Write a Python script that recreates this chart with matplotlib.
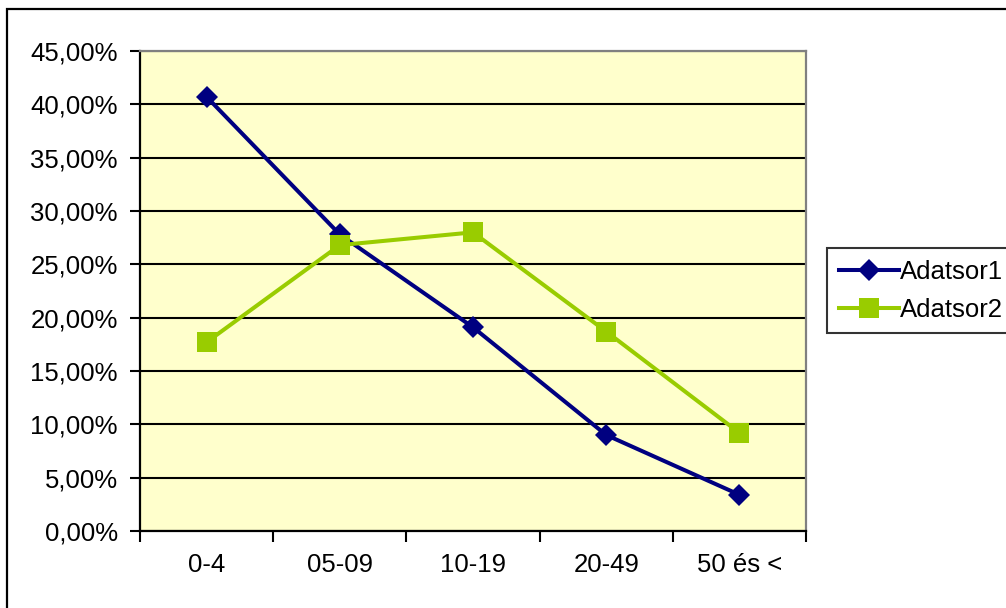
import numpy as np
import matplotlib
matplotlib.use("Agg")
import matplotlib.pyplot as plt
from matplotlib.patches import Rectangle
from matplotlib.ticker import FuncFormatter, FixedLocator

plt.rcParams['font.family'] = ['Liberation Sans', 'DejaVu Sans']

categories = ["0-4", "05-09", "10-19", "20-49", "50 és <"]
adatsor1 = [40.7, 27.8, 19.1, 9.0, 3.4]
adatsor2 = [17.7, 26.8, 28.0, 18.7, 9.2]

W, H = 1006, 608
fig = plt.figure(figsize=(W / 100, H / 100), dpi=100)

# outer chart border
fig.patches.append(Rectangle((7 / W, -0.05), 1.1, 1 - 9 / H + 0.05, transform=fig.transFigure,
                             fill=False, edgecolor="black", linewidth=1.6))

ax = fig.add_axes([140 / W, 1 - 531 / H, 666 / W, 480 / H])
ax.set_facecolor("#FFFFCC")

x = np.arange(len(categories))
ax.plot(x, adatsor1, color="#000080", lw=2.9, marker="D", ms=11, mew=0,
        label="Adatsor1", zorder=3)
ax.plot(x, adatsor2, color="#99CC00", lw=2.9, marker="s", ms=14.5, mew=0,
        label="Adatsor2", zorder=3)

ax.set_xlim(-0.5, len(categories) - 0.5)
ax.set_ylim(0, 45)
ax.set_yticks(np.arange(0, 46, 5))
ax.yaxis.set_major_formatter(FuncFormatter(lambda v, p: f"{v:.2f}%".replace(".", ",")))
ax.grid(axis="y", color="black", lw=1.5)
ax.set_axisbelow(True)

ax.set_xticks(x)
ax.set_xticklabels(categories)
ax.xaxis.set_minor_locator(FixedLocator(np.arange(-0.5, len(categories), 1)))
ax.tick_params(axis="x", which="major", length=0, pad=16, labelsize=18.5)
ax.tick_params(axis="x", which="minor", length=8, width=1.5, direction="out")
ax.tick_params(axis="y", length=7, width=1.5, pad=9, labelsize=18.5)

for s in ["left", "bottom"]:
    ax.spines[s].set_color("black")
    ax.spines[s].set_linewidth(1.6)
for s in ["top", "right"]:
    ax.spines[s].set_color("#808080")
    ax.spines[s].set_linewidth(1.6)

leg = fig.legend(loc="upper left", bbox_to_anchor=(827 / W, 1 - 248 / H), fontsize=18.5,
                 frameon=True, fancybox=False, edgecolor="black", handlelength=2.35,
                 handletextpad=0.05, borderpad=0.45, labelspacing=0.55, borderaxespad=0)
leg.get_frame().set_linewidth(1.5)

fig.savefig("out.png", dpi=100)
